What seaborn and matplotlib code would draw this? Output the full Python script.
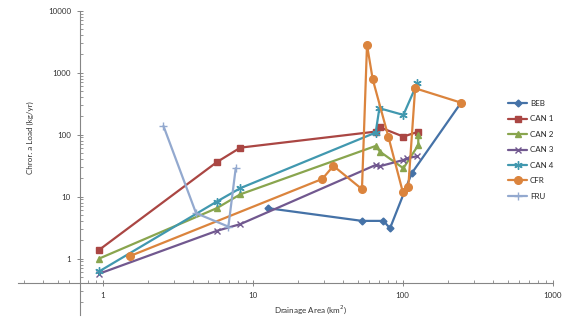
import numpy as np
import pandas as pd
import matplotlib
matplotlib.use("Agg")
import matplotlib.pyplot as plt
import matplotlib.ticker as mticker
import seaborn as sns

# donnees
beb_x = [12.7, 53.5, 74.3, 82.3, 114.8, 245]
beb_y = [6.5, 4.06, 4.06, 3.09, 23.8, 328]

can1_x = [0.945, 5.75, 8.27, 66, 70.6, 101, 126]
can1_y = [1.38, 35.9, 61.7, 112, 131, 93, 111]

can2_x = [0.945, 5.75, 8.27, 66, 70.6, 101, 127, 127]
can2_y = [1.0, 6.5, 10.9, 65.7, 53, 28.7, 68, 99]

can3_x = [0.945, 5.75, 8.27, 66, 70.6, 101, 107.6, 125]
can3_y = [0.57, 2.8, 3.6, 32.4, 31, 39, 41.6, 45]

can4_x = [0.945, 5.75, 8.27, 66, 69.9, 101, 125, 120]
can4_y = [0.62, 8.3, 13.7, 108, 267, 208, 675, 560]

cfr_x = [1.52, 29.1, 34.5, 53.5, 57.8, 63.1, 80.2, 100, 109, 121, 245]
cfr_y = [1.1, 19.3, 31.3, 13.2, 2800, 783, 93, 12.0, 14.5, 560, 328]

fru_x = [2.54, 4.19, 6.88, 7.7]
fru_y = [138, 5.4, 3.28, 28.7]

labels = ["BEB", "CAN 1", "CAN 2", "CAN 3", "CAN 4", "CFR", "FRU"]
xs = [beb_x, can1_x, can2_x, can3_x, can4_x, cfr_x, fru_x]
ys = [beb_y, can1_y, can2_y, can3_y, can4_y, cfr_y, fru_y]
colors = ["#4572A7", "#AA4643", "#89A54E", "#71588F", "#4198AF", "#DB843D", "#93A9CF"]
markers = ["D", "s", "^", "x", (6, 2, 0), "o", "+"]
msizes = [3.5, 5, 5, 5, 6, 5.5, 6]

sns.set_style("white")
plt.rcParams["font.family"] = ["Lato", "DejaVu Sans"]

fig = plt.figure(figsize=(5.76, 3.28), dpi=100)
ax = fig.add_axes([18 / 576, 1 - 315 / 328, (552.7 - 18) / 576, (315 - 10.7) / 328])

for lab, x, y, c, m, ms in zip(labels, xs, ys, colors, markers, msizes):
    sns.lineplot(x=x, y=y, sort=False, estimator=None, color=c, marker=m,
                 markersize=ms, markeredgecolor=c, markeredgewidth=1.0,
                 linewidth=1.6, label=lab, ax=ax)

ax.set_xscale("log")
ax.set_yscale("log")
ax.set_xlim(10 ** -0.565, 1000)
ax.set_ylim(10 ** -0.91, 10000)

# axes qui se croisent comme dans Excel
ax.spines["left"].set_position(("data", 0.706))
ax.spines["bottom"].set_position(("data", 0.405))
ax.spines["top"].set_visible(False)
ax.spines["right"].set_visible(False)
for s in ["left", "bottom"]:
    ax.spines[s].set_color("#868686")
    ax.spines[s].set_linewidth(0.8)

ax.xaxis.set_major_locator(mticker.FixedLocator([1, 10, 100, 1000]))
ax.yaxis.set_major_locator(mticker.FixedLocator([1, 10, 100, 1000, 10000]))
ax.xaxis.set_major_formatter(mticker.FuncFormatter(lambda v, p: f"{v:g}"))
ax.yaxis.set_major_formatter(mticker.FuncFormatter(lambda v, p: f"{v:g}"))
ax.xaxis.set_minor_locator(mticker.LogLocator(base=10, subs=np.arange(2, 10), numticks=20))
ax.yaxis.set_minor_locator(mticker.LogLocator(base=10, subs=np.arange(2, 10), numticks=20))
ax.xaxis.set_minor_formatter(mticker.NullFormatter())
ax.yaxis.set_minor_formatter(mticker.NullFormatter())
ax.tick_params(which="major", direction="inout", length=5, width=0.7, color="#868686",
               labelsize=5.8, labelcolor="#333333", pad=4, left=True, bottom=True)
ax.tick_params(which="minor", direction="in", length=2.5, width=0.6, color="#868686",
               left=True, bottom=True)
ax.set_xlabel("")
ax.set_ylabel("")

fig.text(0.538, 0.055, "Drainage Area (km$^2$)", ha="center", va="center",
         fontsize=5.8, color="#333333")
fig.text(0.053, 0.58, "Chror. a Load (kg/yr)", ha="center", va="center",
         rotation=90, fontsize=5.8, color="#333333")

ax.legend(loc="upper left", bbox_to_anchor=(504 / 576, 1 - 96 / 328),
          bbox_transform=fig.transFigure, frameon=False, fontsize=5.8,
          handlelength=2.4, handletextpad=0.3, labelspacing=1.05, borderpad=0)

fig.savefig("out.png", dpi=100, facecolor="white")
